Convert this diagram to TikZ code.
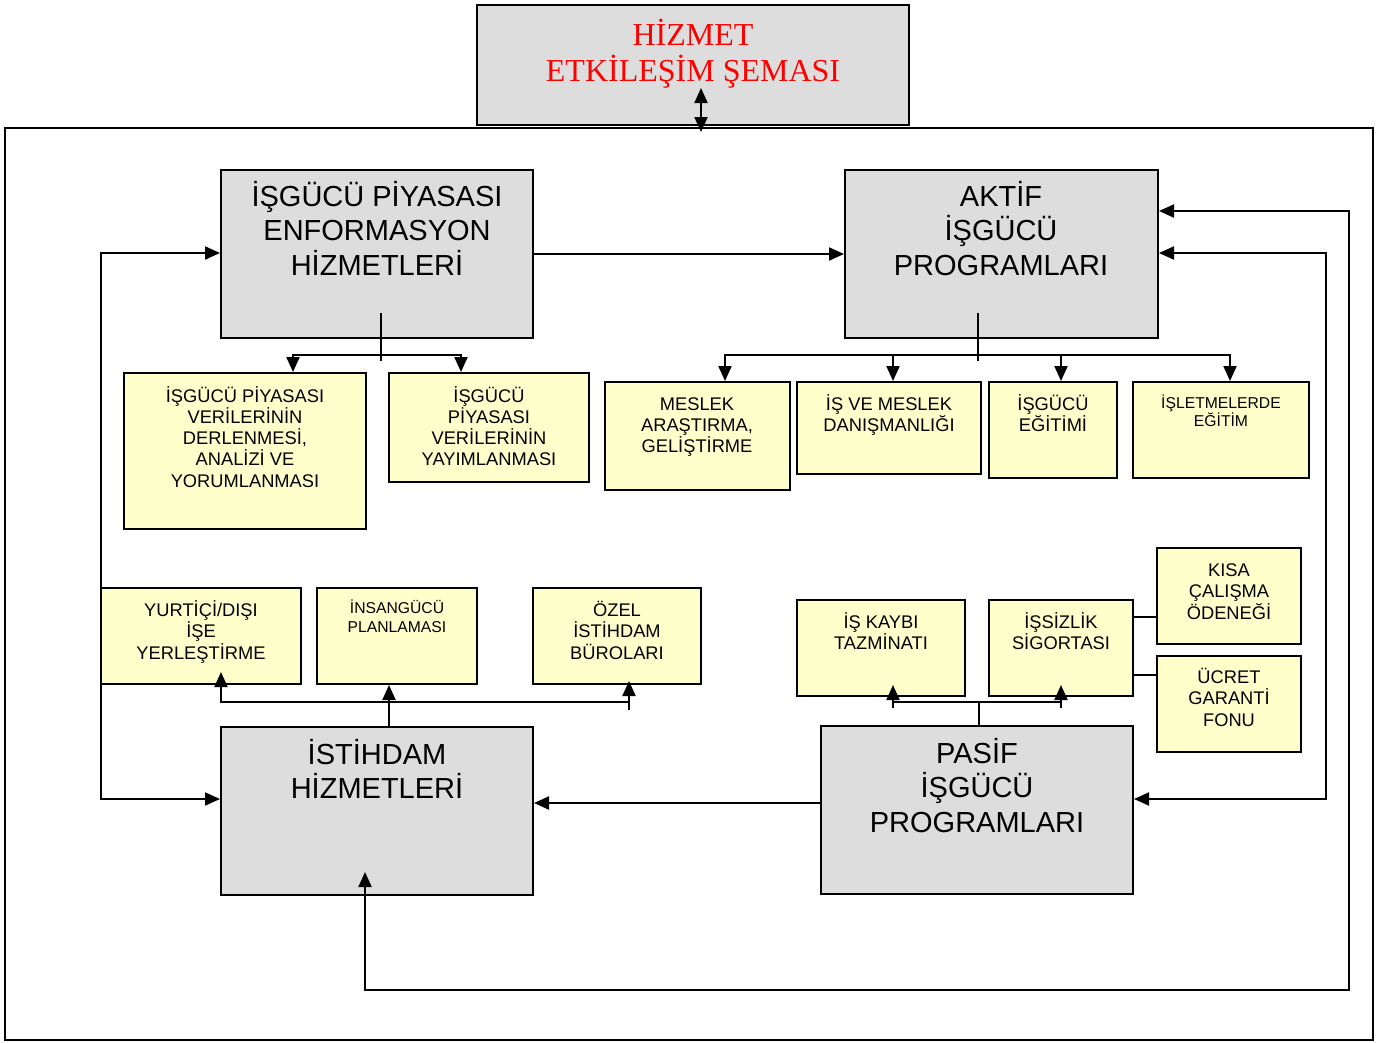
\documentclass[tikz,border=0pt]{standalone}
\usepackage{fontspec}
\setmainfont{Liberation Sans}
\newfontfamily\titleserif{Liberation Serif}
\usetikzlibrary{arrows.meta}
\definecolor{boxgray}{HTML}{DDDDDD}
\definecolor{boxyellow}{HTML}{FFFFCC}
\definecolor{titlered}{HTML}{FF0000}
\tikzset{
  box/.style={draw, line width=2pt, inner sep=0pt, rectangle},
  graybox/.style={box, fill=boxgray},
  ybox/.style={box, fill=boxyellow},
  txt/.style={align=center, anchor=base, inner sep=0pt},
  bigtxt/.style={txt, font=\fontsize{29}{34.5}\selectfont},
  midtxt/.style={txt, font=\fontsize{18.3}{21.3}\selectfont},
  smalltxt/.style={txt, font=\fontsize{15.7}{18.5}\selectfont},
  titletxt/.style={txt, text=titlered, font=\titleserif\fontsize{32}{36}\selectfont},
  conn/.style={line width=2pt},
  arr/.style={conn, -{Triangle[length=15pt,width=13pt]}},
  arrb/.style={conn, {Triangle[length=15pt,width=13pt]}-{Triangle[length=15pt,width=13pt]}},
}
\begin{document}
\begin{tikzpicture}[x=1pt,y=-1pt]
\useasboundingbox (0,0) rectangle (1384,1042);
% frame and title
\node[box, minimum width=1368pt, minimum height=912pt] (frame) at (689,584) {};
\node[graybox, minimum width=432pt, minimum height=120pt] (title) at (693,65) {};
\node[titletxt] (ttitle) at (693,81) {HİZMET\\ETKİLEŞİM ŞEMASI};
% main boxes
\node[graybox, minimum width=312pt, minimum height=168pt] (A) at (377,254) {};
\node[bigtxt] (tA) at (377,275) {İŞGÜCÜ PİYASASI\\ENFORMASYON\\HİZMETLERİ};
\node[graybox, minimum width=313pt, minimum height=168pt] (B) at (1001.5,254) {};
\node[bigtxt] (tB) at (1001,275) {AKTİF\\İŞGÜCÜ\\PROGRAMLARI};
\node[graybox, minimum width=312pt, minimum height=168pt] (C) at (377,811) {};
\node[bigtxt] (tC) at (377,798.5) {İSTİHDAM\\HİZMETLERİ};
\node[graybox, minimum width=312pt, minimum height=168pt] (D) at (977,810) {};
\node[bigtxt] (tD) at (977,832) {PASİF\\İŞGÜCÜ\\PROGRAMLARI};
% A children
\node[ybox, minimum width=242pt, minimum height=156pt] (a1) at (245,451) {};
\node[midtxt] (ta1) at (245,487.2) {İŞGÜCÜ PİYASASI\\VERİLERİNİN\\DERLENMESİ,\\ANALİZİ VE\\YORUMLANMASI};
\node[ybox, minimum width=200pt, minimum height=109pt] (a2) at (489,427.5) {};
\node[midtxt] (ta2) at (489,465.9) {İŞGÜCÜ\\PİYASASI\\VERİLERİNİN\\YAYIMLANMASI};
% B children
\node[ybox, minimum width=185pt, minimum height=108pt] (b1) at (697.5,436) {};
\node[midtxt] (tb1) at (697,452.6) {MESLEK\\ARAŞTIRMA,\\GELİŞTİRME};
\node[ybox, minimum width=184pt, minimum height=92pt] (b2) at (889,428) {};
\node[midtxt] (tb2) at (889,431.3) {İŞ VE MESLEK\\DANIŞMANLIĞI};
\node[ybox, minimum width=128pt, minimum height=96pt] (b3) at (1053,430) {};
\node[midtxt] (tb3) at (1053,431.3) {İŞGÜCÜ\\EĞİTİMİ};
\node[ybox, minimum width=176pt, minimum height=96pt] (b4) at (1221,430) {};
\node[smalltxt] (tb4) at (1221,426.5) {İŞLETMELERDE\\EĞİTİM};
% C children
\node[ybox, minimum width=200pt, minimum height=96pt] (c1) at (201,636) {};
\node[midtxt] (tc1) at (201,659.1) {YURTİÇİ/DIŞI\\İŞE\\YERLEŞTİRME};
\node[ybox, minimum width=160pt, minimum height=96pt] (c2) at (397,636) {};
\node[smalltxt] (tc2) at (397,632) {İNSANGÜCÜ\\PLANLAMASI};
\node[ybox, minimum width=168pt, minimum height=96pt] (c3) at (617,636) {};
\node[midtxt] (tc3) at (617,659.1) {ÖZEL\\İSTİHDAM\\BÜROLARI};
% D children
\node[ybox, minimum width=168pt, minimum height=96pt] (d1) at (881,648) {};
\node[midtxt] (td1) at (881,649.8) {İŞ KAYBI\\TAZMİNATI};
\node[ybox, minimum width=144pt, minimum height=96pt] (d2) at (1061,648) {};
\node[midtxt] (td2) at (1061,649.8) {İŞSİZLİK\\SİGORTASI};
\node[ybox, minimum width=144pt, minimum height=96pt] (d3) at (1229,596) {};
\node[midtxt] (td3) at (1229,619.1) {KISA\\ÇALIŞMA\\ÖDENEĞİ};
\node[ybox, minimum width=144pt, minimum height=96pt] (d4) at (1229,704) {};
\node[midtxt] (td4) at (1229,726.1) {ÜCRET\\GARANTİ\\FONU};
% junction coordinates
\coordinate (tj) at (701,88);
\coordinate (fj) at (701,132);
\coordinate (aj) at (381,313);
\coordinate (ah) at (381,361);
\coordinate (bj) at (978,313);
\coordinate (bh) at (978,361);
\coordinate (cin) at (365,872);
% connectors
\draw[arrb] (tj) -- (fj);
\draw[arr] (A.east) -- (B.west);
\draw[arr] (D.west |- 0,803) -- (C.east |- 0,803);
\draw[arrb] (A.west |- 0,253) -- (101,253) -- (101,799) -- (C.west |- 0,799);
\draw[arrb] (B.east |- 0,253) -- (1326,253) -- (1326,799) -- (D.east |- 0,799);
\draw[arrb] (B.east |- 0,211) -- (1349,211) -- (1349,990) -- (365,990) -- (cin);
% A tree
\draw[conn] (aj) -- (ah);
\draw[arrb] (a1.north -| 293,0) -- (293,355) -- (461,355) -- (a2.north -| 461,0);
% B tree
\draw[conn] (bj) -- (bh);
\draw[arrb] (b1.north -| 725,0) -- (725,355) -- (1230,355) -- (b4.north -| 1230,0);
\draw[arr] (893,355) -- (b2.north -| 893,0);
\draw[arr] (1061,355) -- (b3.north -| 1061,0);
% C tree
\draw[arr] (C.north -| 389,0) -- (c2.south -| 389,0);
\draw[conn] (221,702) -- (629,702);
\draw[arr] (221,703) -- (221,672);
\draw[arr] (629,710) -- (629,681);
% D tree
\draw[conn] (D.north -| 979,0) -- (979,702);
\draw[conn] (893,702) -- (1061,702);
\draw[arr] (893,708) -- (893,685);
\draw[arr] (1061,708) -- (1061,685);
\draw[conn] (d2.east |- 0,617) -- (d3.west |- 0,617);
\draw[conn] (d2.east |- 0,675) -- (d4.west |- 0,675);
\end{tikzpicture}
\end{document}
